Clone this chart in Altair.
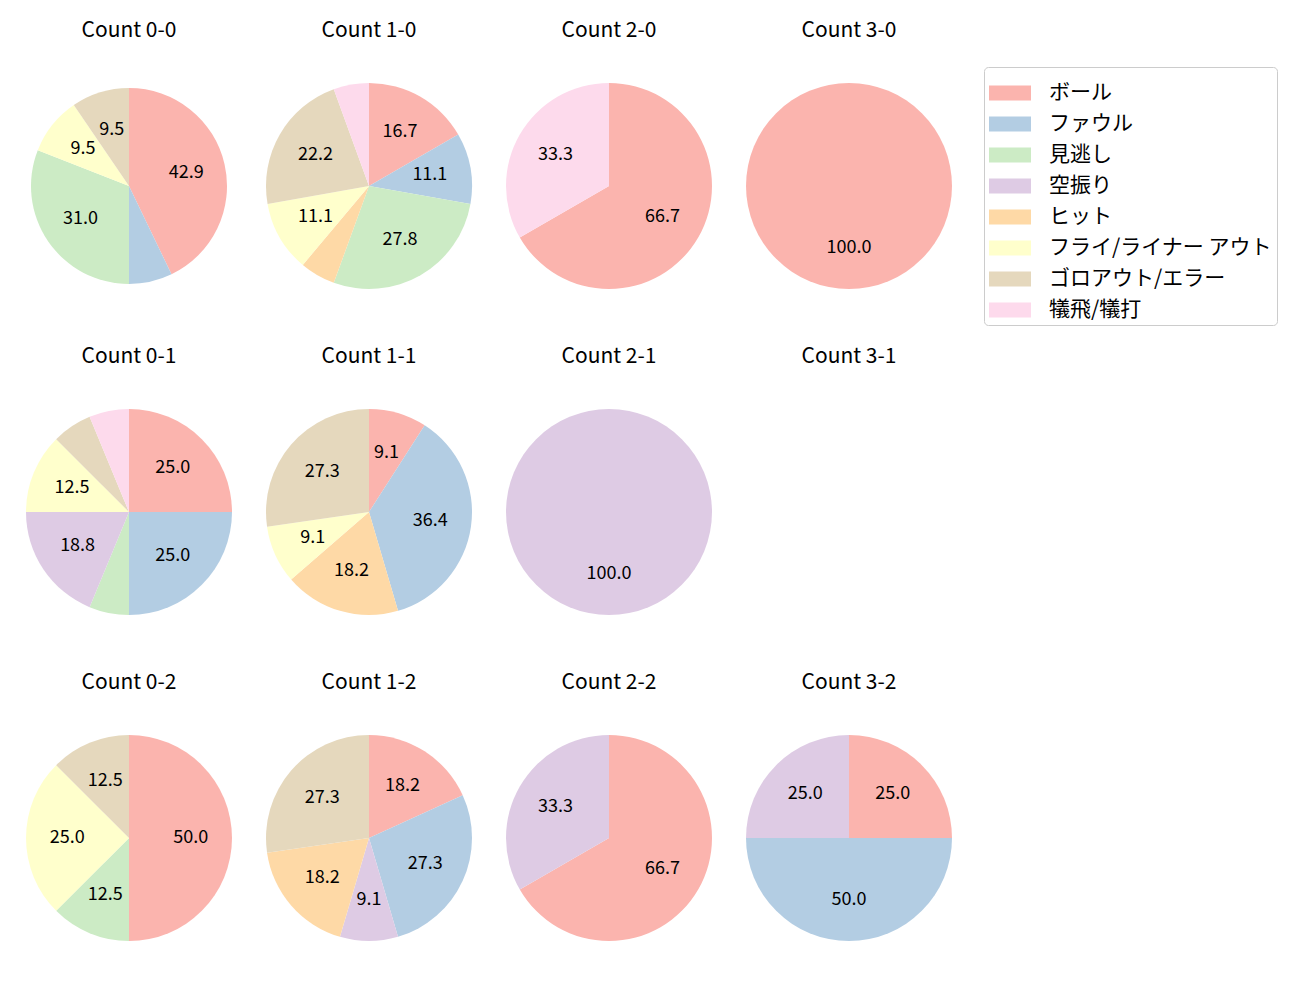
import altair as alt
import pandas as pd

categories = ["ボール", "ファウル", "見逃し", "空振り", "ヒット",
              "フライ/ライナー アウト", "ゴロアウト/エラー", "犠飛/犠打"]
colors = ["#fbb4ae", "#b3cde3", "#ccebc5", "#decbe4",
          "#fed9a6", "#ffffcc", "#e5d8bd", "#fddaec"]

counts = ["0-0", "1-0", "2-0", "3-0",
          "0-1", "1-1", "2-1", "3-1",
          "0-2", "1-2", "2-2", "3-2"]

# number of pitches per category (order as categories)
v_0_0 = [18, 3, 13, 0, 0, 4, 4, 0]
v_1_0 = [3, 2, 5, 0, 1, 2, 4, 1]
v_2_0 = [2, 0, 0, 0, 0, 0, 0, 1]
v_3_0 = [1, 0, 0, 0, 0, 0, 0, 0]
v_0_1 = [4, 4, 1, 3, 0, 2, 1, 1]
v_1_1 = [1, 4, 0, 0, 2, 1, 3, 0]
v_2_1 = [0, 0, 0, 1, 0, 0, 0, 0]
v_3_1 = [0, 0, 0, 0, 0, 0, 0, 0]
v_0_2 = [4, 0, 1, 0, 0, 2, 1, 0]
v_1_2 = [2, 3, 0, 1, 2, 0, 3, 0]
v_2_2 = [2, 0, 0, 1, 0, 0, 0, 0]
v_3_2 = [1, 2, 0, 1, 0, 0, 0, 0]

values = {
    "0-0": v_0_0, "1-0": v_1_0, "2-0": v_2_0, "3-0": v_3_0,
    "0-1": v_0_1, "1-1": v_1_1, "2-1": v_2_1, "3-1": v_3_1,
    "0-2": v_0_2, "1-2": v_1_2, "2-2": v_2_2, "3-2": v_3_2,
}

rows = []
for c in counts:
    vals = values[c]
    tot = sum(vals)
    for i, (cat, v) in enumerate(zip(categories, vals)):
        if v <= 0:
            continue
        pct = 100.0 * v / tot
        rows.append({"count": c, "cat": cat, "idx": i, "value": v,
                     "label": f"{pct:.1f}" if pct >= 8 else ""})
df = pd.DataFrame(rows)

FONT = "Noto Sans CJK JP"
W = 206

def panel(c, r):
    base = alt.Chart(df).encode(
        theta=alt.Theta("value:Q", stack=True),
        order=alt.Order("idx:Q"),
    )
    arc = base.mark_arc(radius=r, stroke=None).encode(
        color=alt.Color("cat:N",
                        scale=alt.Scale(domain=categories, range=colors),
                        legend=alt.Legend(title=None, orient="none",
                                          legendX=958, legendY=-16)),
    )
    text = base.mark_text(radius=0.6 * r, font=FONT, fontSize=18,
                          color="black").encode(text="label:N")
    return alt.layer(arc, text).transform_filter(
        alt.datum["count"] == c
    ).properties(width=W, height=W,
                 title=alt.TitleParams(f"Count {c}", font=FONT, fontSize=21,
                                       fontWeight="normal", color="black",
                                       offset=42))

radii = {c: 103 for c in counts}
radii["0-0"] = 98

grid_rows = []
for r_i in range(3):
    grid_rows.append(alt.hconcat(*[panel(c, radii[c]) for c in counts[r_i*4:(r_i+1)*4]],
                                 spacing=34))

chart = alt.vconcat(*grid_rows, spacing=57).properties(
    padding={"left": 18, "top": 12, "right": 5, "bottom": 5}
).configure_view(stroke=None).configure_legend(
    labelFont=FONT, labelFontSize=21, labelColor="black",
    symbolType="M-1,-0.357H1V0.357H-1Z", symbolSize=1764,
    symbolStrokeWidth=0, labelOffset=18,
    padding=5, strokeColor="#cccccc", cornerRadius=4, fillColor="white",
    rowPadding=-3, labelLimit=400,
)

chart.save("out.html", embed_options={"renderer": "svg", "actions": False})
